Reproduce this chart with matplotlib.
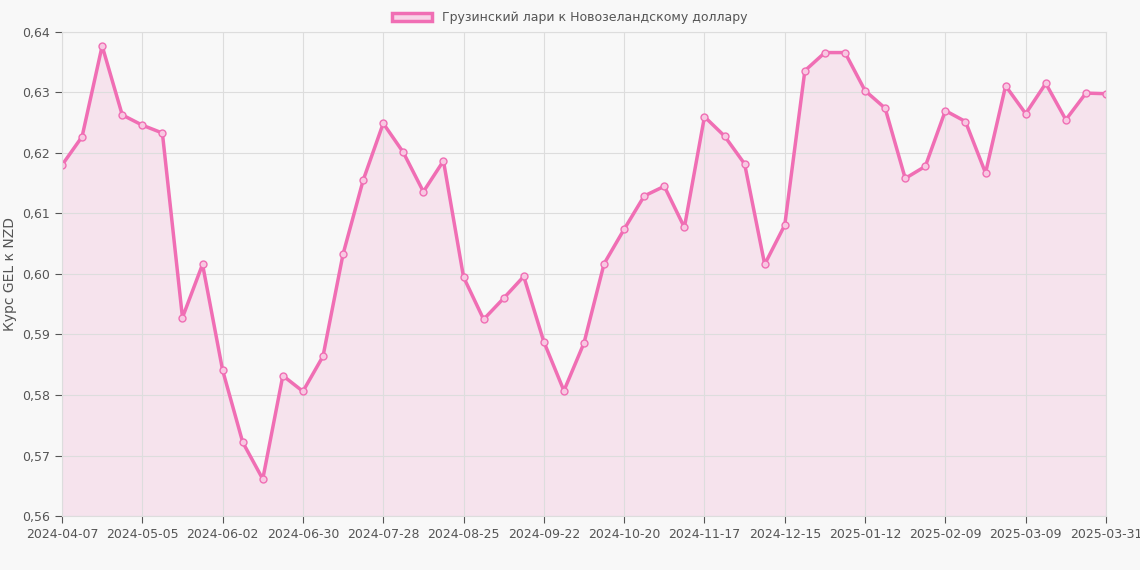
import matplotlib.pyplot as plt
import matplotlib.patches as mpatches
import pandas as pd

dates = pd.date_range('2024-04-07', periods=52, freq='7D').strftime('%Y-%m-%d').tolist() + ['2025-03-31']
rates = [0.618, 0.6227, 0.6377, 0.6263, 0.6246, 0.6233, 0.5928, 0.6016, 0.5841, 0.5722,
         0.5661, 0.5832, 0.5806, 0.5864, 0.6033, 0.6155, 0.6249, 0.6201, 0.6136, 0.6187,
         0.5995, 0.5925, 0.5960, 0.5996, 0.5888, 0.5807, 0.5886, 0.6017, 0.6074, 0.6129,
         0.6145, 0.6077, 0.6260, 0.6228, 0.6182, 0.6016, 0.6081, 0.6336, 0.6366, 0.6366,
         0.6303, 0.6274, 0.6158, 0.6178, 0.6270, 0.6252, 0.6167, 0.6311, 0.6265, 0.6315,
         0.6255, 0.6299, 0.6298]
label = 'Грузинский лари к Новозеландскому доллару'
color = '#f06eb4'

fig = plt.figure(figsize=(11.4, 5.7), dpi=100, facecolor='#f8f8f8')
ax = fig.add_axes([62/1140, 1-516/570, (1106-62)/1140, (516-32)/570])
ax.set_facecolor('#f8f8f8')
x = list(range(len(rates)))
ax.fill_between(x, rates, 0.56, color=color, alpha=0.15, lw=0)
ax.plot(x, rates, color=color, lw=2.5, marker='o', ms=5, mfc='#f8c8e2', mec=color, mew=1)
ax.set_xlim(0, len(rates) - 1)
ax.set_ylim(0.56, 0.64)
ticks = list(range(0, 52, 4)) + [52]
ax.set_xticks(ticks)
ax.set_xticklabels([dates[i] for i in ticks])
yt = [0.56 + 0.01 * i for i in range(9)]
ax.set_yticks(yt)
ax.set_yticklabels([f'{v:.2f}'.replace('.', ',') for v in yt])
ax.grid(color='#dddddd', lw=0.8)
ax.tick_params(colors='#555555', labelsize=9, length=5)
for s in ax.spines.values():
    s.set_color('#dddddd')
ax.set_ylabel('Курс GEL к NZD', color='#555555', fontsize=10)
h = mpatches.Patch(facecolor='#f8d4e8', edgecolor=color, lw=2.5)
fig.legend([h], [label], loc='upper center', bbox_to_anchor=(0.5, 1.0), frameon=False,
           fontsize=9, labelcolor='#555555', handlelength=3.2)
fig.savefig('out.png', facecolor=fig.get_facecolor())
